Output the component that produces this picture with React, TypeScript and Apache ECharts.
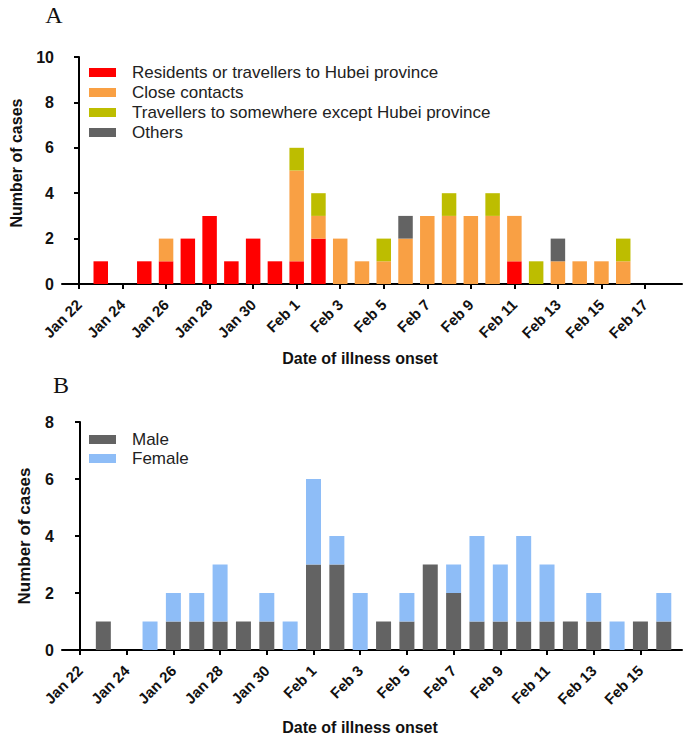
import React, { useEffect, useRef } from 'react';
import * as echarts from 'echarts';

// Days from Jan 22 to Feb 17 (index 0..26)
const days = [
  'Jan 22', 'Jan 23', 'Jan 24', 'Jan 25', 'Jan 26', 'Jan 27', 'Jan 28', 'Jan 29', 'Jan 30', 'Jan 31',
  'Feb 1', 'Feb 2', 'Feb 3', 'Feb 4', 'Feb 5', 'Feb 6', 'Feb 7', 'Feb 8', 'Feb 9', 'Feb 10',
  'Feb 11', 'Feb 12', 'Feb 13', 'Feb 14', 'Feb 15', 'Feb 16', 'Feb 17',
];
const daysB = days.slice(0, 26); // Jan 22 .. Feb 16

// Tick labels (every 2 days)
const tickLabelsA = ['Jan 22', 'Jan 24', 'Jan 26', 'Jan 28', 'Jan 30', 'Feb 1', 'Feb 3', 'Feb 5', 'Feb 7', 'Feb 9', 'Feb 11', 'Feb 13', 'Feb 15', 'Feb 17'];
const tickLabelsB = ['Jan 22', 'Jan 24', 'Jan 26', 'Jan 28', 'Jan 30', 'Feb 1', 'Feb 3', 'Feb 5', 'Feb 7', 'Feb 9', 'Feb 11', 'Feb 13', 'Feb 15'];

// Panel A: source of infection (Jan 22 .. Feb 17)
const residents = [0, 1, 0, 1, 1, 2, 3, 1, 2, 1, 1, 2, 0, 0, 0, 0, 0, 0, 0, 0, 1, 0, 0, 0, 0, 0, 0];
const closeContacts = [0, 0, 0, 0, 1, 0, 0, 0, 0, 0, 4, 1, 2, 1, 1, 2, 3, 3, 3, 3, 2, 0, 1, 1, 1, 1, 0];
const travellersElse = [0, 0, 0, 0, 0, 0, 0, 0, 0, 0, 1, 1, 0, 0, 1, 0, 0, 1, 0, 1, 0, 1, 0, 0, 0, 1, 0];
const others = [0, 0, 0, 0, 0, 0, 0, 0, 0, 0, 0, 0, 0, 0, 0, 1, 0, 0, 0, 0, 0, 0, 1, 0, 0, 0, 0];

// Panel B: sex (Jan 22 .. Feb 16)
const male = [0, 1, 0, 0, 1, 1, 1, 1, 1, 0, 3, 3, 0, 1, 1, 3, 2, 1, 1, 1, 1, 1, 1, 0, 1, 1];
const female = [0, 0, 0, 1, 1, 1, 2, 0, 1, 1, 3, 1, 2, 0, 1, 0, 1, 3, 2, 3, 2, 0, 1, 1, 0, 1];

const seriesNamesA = [
  'Residents or travellers to Hubei province',
  'Close contacts',
  'Travellers to somewhere except Hubei province',
  'Others',
];
const seriesNamesB = ['Male', 'Female'];

const SANS = '"Liberation Sans", Arial, sans-serif';
const SERIF = '"Liberation Serif", "Times New Roman", serif';

export default function App() {
  const ref = useRef<HTMLDivElement>(null);

  useEffect(() => {
    if (!ref.current) return;
    const chart = echarts.init(ref.current, undefined, { renderer: 'svg' });

    const tickValsA = tickLabelsA.map((l) => days.indexOf(l));
    const tickValsB = tickLabelsB.map((l) => days.indexOf(l));

    // visible axes frame
    const left = 62;
    const width = 620;
    const panelA = { top: 57, height: 227, min: -0.78, max: 27.7, n: days.length };
    const panelB = { top: 422, height: 228, min: -0.77, max: 25.78, n: daysB.length };
    // hidden category grid aligned with the day positions of the visible value axis
    const bandGrid = (p: { top: number; height: number; min: number; max: number; n: number }) => {
      const d = width / (p.max - p.min);
      return { left: left + (-0.5 - p.min) * d, top: p.top, width: p.n * d, height: p.height };
    };

    const xValueAxis = (p: { min: number; max: number }, gridIndex: number, ticks: number[]) => ({
      type: 'value',
      gridIndex,
      min: p.min,
      max: p.max,
      splitLine: { show: false },
      axisLine: { show: true, onZero: false, lineStyle: { color: '#000', width: 2 } },
      axisTick: { show: true, length: 5, customValues: ticks, lineStyle: { color: '#000', width: 2 } },
      axisLabel: {
        customValues: ticks,
        rotate: 45,
        margin: 18,
        formatter: (v: number) => days[Math.round(v)] ?? '',
        color: '#111',
        fontFamily: SANS,
        fontWeight: 'bold',
        fontSize: 15,
      },
    });
    const xCatAxis = (cats: string[], gridIndex: number) => ({
      type: 'category',
      gridIndex,
      data: cats,
      boundaryGap: true,
      show: false,
    });

    const yVisible = (max: number, gridIndex: number) => ({
      type: 'value',
      gridIndex,
      min: 0,
      max,
      interval: 2,
      splitLine: { show: false },
      axisLine: { show: true, lineStyle: { color: '#000', width: 2 } },
      axisTick: { show: true, length: 5, lineStyle: { color: '#000', width: 2 } },
      axisLabel: {
        margin: 8,
        color: '#111',
        fontFamily: SANS,
        fontWeight: 'bold',
        fontSize: 16,
      },
    });
    const yHidden = (max: number, gridIndex: number) => ({
      type: 'value',
      gridIndex,
      min: 0,
      max,
      interval: 2,
      show: false,
      splitLine: { show: false },
    });

    const colorsA = ['#FF0000', '#F9A044', '#BDBD00', '#636363'];
    const valuesA = [residents, closeContacts, travellersElse, others];
    const colorsB = ['#636363', '#8EBDF7'];
    const valuesB = [male, female];

    const seriesA = seriesNamesA.map((name, k) => ({
      name,
      type: 'bar',
      xAxisIndex: 1,
      yAxisIndex: 1,
      stack: 'A',
      barWidth: 14.5,
      itemStyle: { color: colorsA[k] },
      data: valuesA[k],
    }));
    const seriesB = seriesNamesB.map((name, k) => ({
      name,
      type: 'bar',
      xAxisIndex: 3,
      yAxisIndex: 3,
      stack: 'B',
      barWidth: 15,
      itemStyle: { color: colorsB[k] },
      data: valuesB[k],
    }));

    const legendText = {
      color: '#222',
      fontFamily: SANS,
      fontSize: 17,
      lineHeight: 16,
      padding: [0, 0, 0, 11],
    };

    chart.setOption({
      animation: false,
      backgroundColor: '#fff',
      grid: [
        { left, top: panelA.top, width, height: panelA.height },
        bandGrid(panelA),
        { left, top: panelB.top, width, height: panelB.height },
        bandGrid(panelB),
      ],
      xAxis: [
        xValueAxis(panelA, 0, tickValsA),
        xCatAxis(days, 1),
        xValueAxis(panelB, 2, tickValsB),
        xCatAxis(daysB, 3),
      ],
      yAxis: [yVisible(10, 0), yHidden(10, 1), yVisible(8, 2), yHidden(8, 3)],
      legend: [
        {
          data: seriesNamesA,
          orient: 'vertical',
          left: 89,
          top: 64,
          padding: 0,
          itemWidth: 27,
          itemHeight: 9,
          itemGap: 3,
          icon: 'rect',
          selectedMode: false,
          textStyle: legendText,
        },
        {
          data: seriesNamesB,
          orient: 'vertical',
          left: 89,
          top: 431,
          padding: 0,
          itemWidth: 27,
          itemHeight: 9,
          itemGap: 2,
          icon: 'rect',
          selectedMode: false,
          textStyle: legendText,
        },
      ],
      graphic: [
        { type: 'text', x: 54, y: 15, style: { text: 'A', font: `24px ${SERIF}`, fill: '#111', align: 'center', verticalAlign: 'middle' } },
        { type: 'text', x: 61, y: 385, style: { text: 'B', font: `24px ${SERIF}`, fill: '#111', align: 'center', verticalAlign: 'middle' } },
        { type: 'text', x: 16, y: 163, rotation: Math.PI / 2, style: { text: 'Number of cases', font: `bold 16px ${SANS}`, fill: '#111', align: 'center', verticalAlign: 'middle' } },
        { type: 'text', x: 24, y: 536, rotation: Math.PI / 2, style: { text: 'Number of cases', font: `bold 17px ${SANS}`, fill: '#111', align: 'center', verticalAlign: 'middle' } },
        { type: 'text', x: 360, y: 358, style: { text: 'Date of illness onset', font: `bold 16px ${SANS}`, fill: '#111', align: 'center', verticalAlign: 'middle' } },
        { type: 'text', x: 360, y: 727, style: { text: 'Date of illness onset', font: `bold 16px ${SANS}`, fill: '#111', align: 'center', verticalAlign: 'middle' } },
      ],
      series: [...seriesA, ...seriesB],
    });

    return () => chart.dispose();
  }, []);

  return <div ref={ref} style={{ position: 'fixed', left: 0, top: 0, width: 688, height: 743 }} />;
}
